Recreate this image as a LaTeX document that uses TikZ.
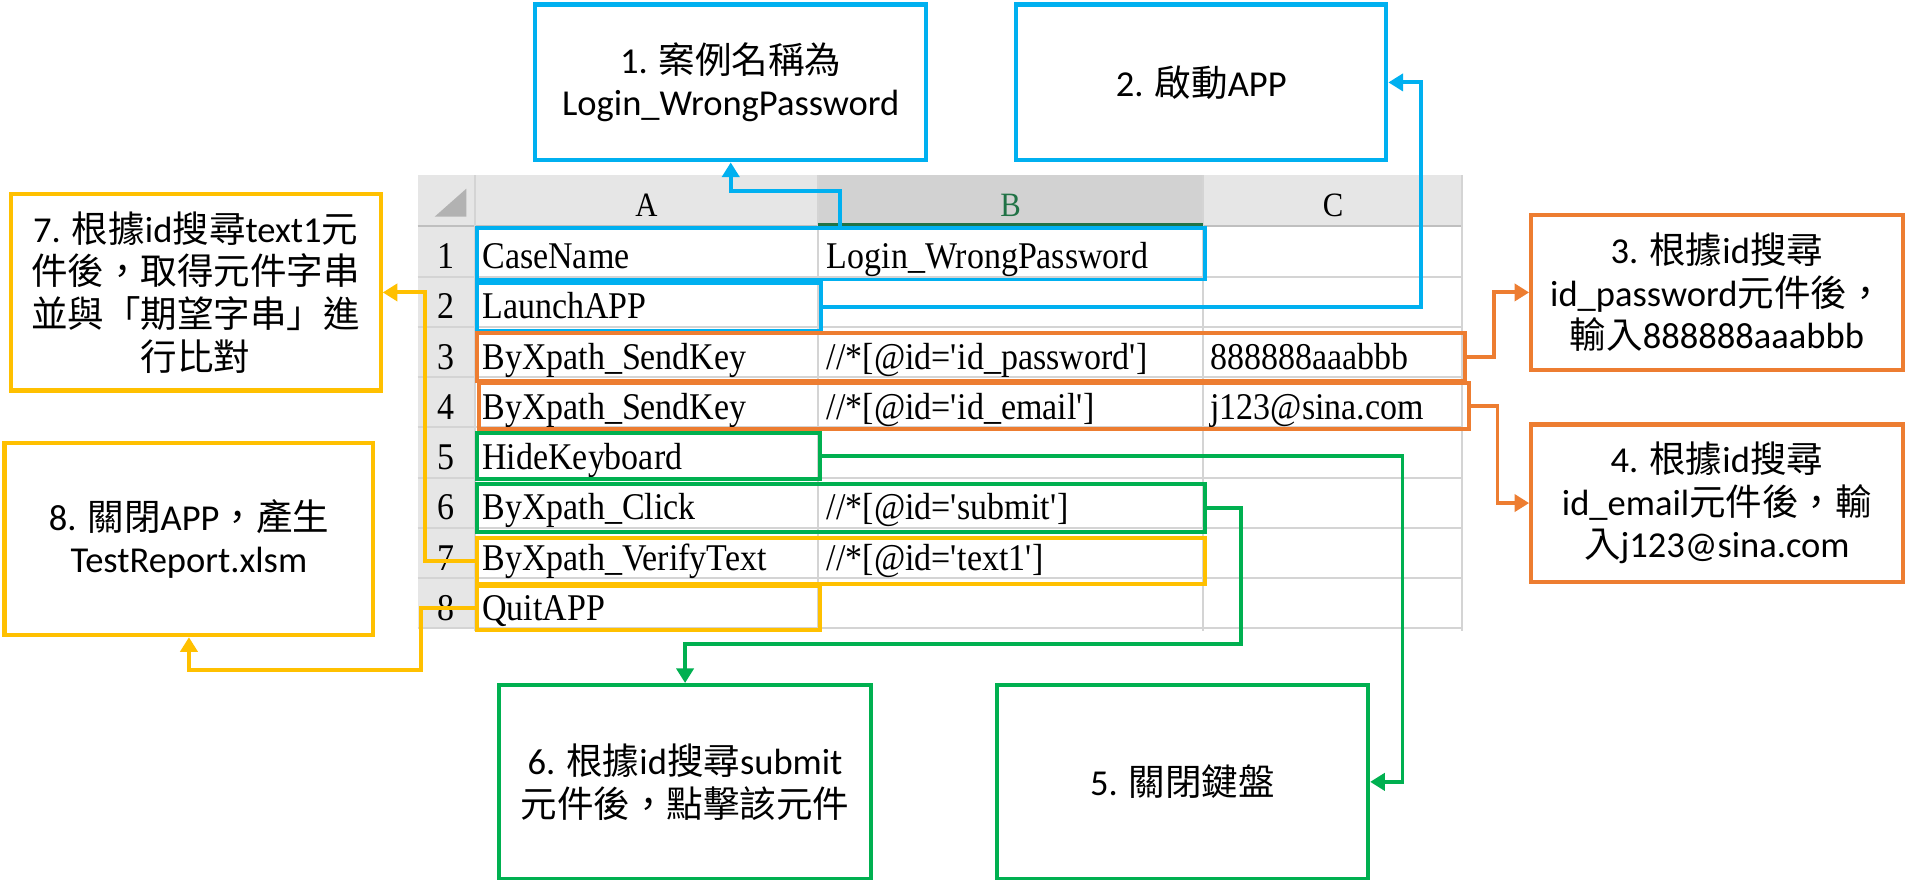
\documentclass[tikz,border=0pt]{standalone}
\usepackage{fontspec}
\setmainfont{Carlito}
\newfontfamily\zhfont{Noto Sans CJK TC}
\newfontfamily\cellfont[FakeStretch=0.9]{Liberation Serif}
\newcommand\zh[1]{{\zhfont #1}}
\usetikzlibrary{arrows.meta}
\definecolor{cB}{HTML}{00B0F0}
\definecolor{cO}{HTML}{ED7D31}
\definecolor{cG}{HTML}{00B050}
\definecolor{cY}{HTML}{FFC000}
\definecolor{hdr}{HTML}{E6E6E6}
\definecolor{hdrsel}{HTML}{D2D2D2}
\definecolor{gridc}{HTML}{D4D4D4}
\definecolor{xlgreen}{HTML}{217346}
\newcommand\mkbox[7]{\node[#2, minimum width={#5pt-#3pt}, minimum height={#6pt-#4pt}] (#1) at (#3,#4) {#7};}
\begin{document}
\begin{tikzpicture}[x=1pt,y=-1pt,
  hl/.style={draw=#1, line width=3.2pt, inner sep=0pt, anchor=north west},
  callout/.style={draw=#1, line width=3.4pt, inner sep=0pt, anchor=north west, align=center,
    font=\fontsize{30}{35}\selectfont},
  conn/.style={draw=#1, line width=3.2pt, -{Triangle[length=12pt,width=14pt]}},
  cell/.style={anchor=base west, inner sep=0pt, font=\cellfont\fontsize{31}{33}\selectfont},
  rownum/.style={anchor=base, inner sep=0pt, font=\cellfont\fontsize{31}{33}\selectfont},
  colhead/.style={anchor=base, inner sep=0pt, font=\cellfont\fontsize{28}{30}\selectfont}]
\useasboundingbox (0,0) rectangle (1568,722);
\fill[white] (0,0) rectangle (1568,722);
% ---------- spreadsheet ----------
\fill[hdr] (343,144) rectangle (1201,186);
\fill[hdr] (343,186) rectangle (390,516);
\fill[hdrsel] (672,144) rectangle (988,186);
\fill[black!30] (383,155) -- (383,178) -- (357,178) -- cycle;
\foreach \y in {227.25,268.5,309.75,351,392.25,433.5,474.75,516}
  \draw[gridc, line width=1.6pt] (343,\y) -- (1201,\y);
\draw[black!25, line width=1.6pt] (343,186) -- (1201,186);
\foreach \x in {390,672,988,1201}
  \draw[gridc, line width=1.6pt] (\x,144) -- (\x,518);
\draw[xlgreen, line width=2.6pt] (672,184.5) -- (988,184.5);
\node[colhead] (hA) at (531,178) {A};
\node[colhead, text=xlgreen] (hB) at (830,178) {B};
\node[colhead] (hC) at (1095,178) {C};
\foreach \i/\b in {1/220.75,2/262,3/303.25,4/344.5,5/385.75,6/427,7/468.25,8/509.5}
  \node[rownum] (n\i) at (366.5,\b) {\i};
% cells
\node[cell] (a1) at (396,220.75) {CaseName};
\node[cell] (b1c) at (679,220.75) {Login\_WrongPassword};
\node[cell] (a2) at (396,262) {LaunchAPP};
\node[cell] (a3) at (396,303.25) {ByXpath\_SendKey};
\node[cell] (b3c) at (679,303.25) {//*[@id=\textquotesingle id\_password\textquotesingle]};
\node[cell] (c3c) at (994,303.25) {888888aaabbb};
\node[cell] (a4) at (396,344.5) {ByXpath\_SendKey};
\node[cell] (b4c) at (679,344.5) {//*[@id=\textquotesingle id\_email\textquotesingle]};
\node[cell] (c4c) at (994,344.5) {j123@sina.com};
\node[cell] (a5) at (396,385.75) {HideKeyboard};
\node[cell] (a6) at (396,427) {ByXpath\_Click};
\node[cell] (b6c) at (679,427) {//*[@id=\textquotesingle submit\textquotesingle]};
\node[cell] (a7) at (396,468.25) {ByXpath\_VerifyText};
\node[cell] (b7c) at (679,468.25) {//*[@id=\textquotesingle text1\textquotesingle]};
\node[cell] (a8) at (396,509.5) {QuitAPP};
% highlight boxes
\mkbox{r1}{hl=cB}{390}{186}{988}{228}{}
\mkbox{r2}{hl=cB}{390}{231}{673}{270}{}
\mkbox{r3}{hl=cO}{390}{272}{1202}{311}{}
\mkbox{r4}{hl=cO}{392}{313}{1205}{351}{}
\mkbox{r5}{hl=cG}{390}{354}{672}{392}{}
\mkbox{r6}{hl=cG}{390}{396}{988}{435}{}
\mkbox{r7}{hl=cY}{390}{440}{988}{478}{}
\mkbox{r8}{hl=cY}{390}{480}{672}{516}{}
% ---------- callouts ----------
\mkbox{b1}{callout=cB}{438}{2}{759}{130}{1. \zh{案例名稱為}\\Login\_WrongPassword}
\mkbox{b2}{callout=cB}{833}{2}{1137}{130}{2. \zh{啟動}APP}
\mkbox{b3}{callout=cO}{1256}{175}{1561}{302}{3. \zh{根據}id\zh{搜尋}\\id\_password\zh{元件後，}\\\zh{輸入}888888aaabbb}
\mkbox{b4}{callout=cO}{1256}{347}{1561}{476}{4. \zh{根據}id\zh{搜尋}\\id\_email\zh{元件後，輸}\\\zh{入}j123@sina.com}
\mkbox{b5}{callout=cG}{817}{561}{1122}{720}{5. \zh{關閉鍵盤}}
\mkbox{b6}{callout=cG}{408}{561}{714}{720}{6. \zh{根據}id\zh{搜尋}submit\\\zh{元件後，點擊該元件}}
\mkbox{b7}{callout=cY}{7}{158}{311}{319}{7. \zh{根據}id\zh{搜尋}text1\zh{元}\\\zh{件後，取得元件字串}\\\zh{並與「期望字串」進}\\\zh{行比對}}
\mkbox{b8}{callout=cY}{2}{362}{305}{520}{8. \zh{關閉}APP\zh{，產生}\\TestReport.xlsm}
% ---------- connectors ----------
\coordinate (k1) at (690,157);
\coordinate (k2) at (1167,0);
\coordinate (k3) at (1227,0);
\coordinate (k4) at (1230,0);
\coordinate (k5) at (1152,0);
\coordinate (k6) at (1019,529);
\coordinate (k7) at (349,0);
\coordinate (k8) at (346,550);
\draw[conn=cB] (r1.north -| k1) -- (k1) -| (b1.south);
\draw[conn=cB] (r2.east) -- (r2.east -| k2) |- (b2.east);
\draw[conn=cO] (r3.east) -- (r3.east -| k3) |- (b3.west);
\draw[conn=cO] (r4.east) -- (r4.east -| k4) |- (b4.west);
\draw[conn=cG] (r5.east) -- (r5.east -| k5) |- (b5.east);
\draw[conn=cG] (r6.east) -| (k6) -| (b6.north);
\draw[conn=cY] (r7.west) -- (r7.west -| k7) |- (b7.east);
\draw[conn=cY] (r8.west) -| (k8) -| (b8.south);
\end{tikzpicture}
\end{document}
